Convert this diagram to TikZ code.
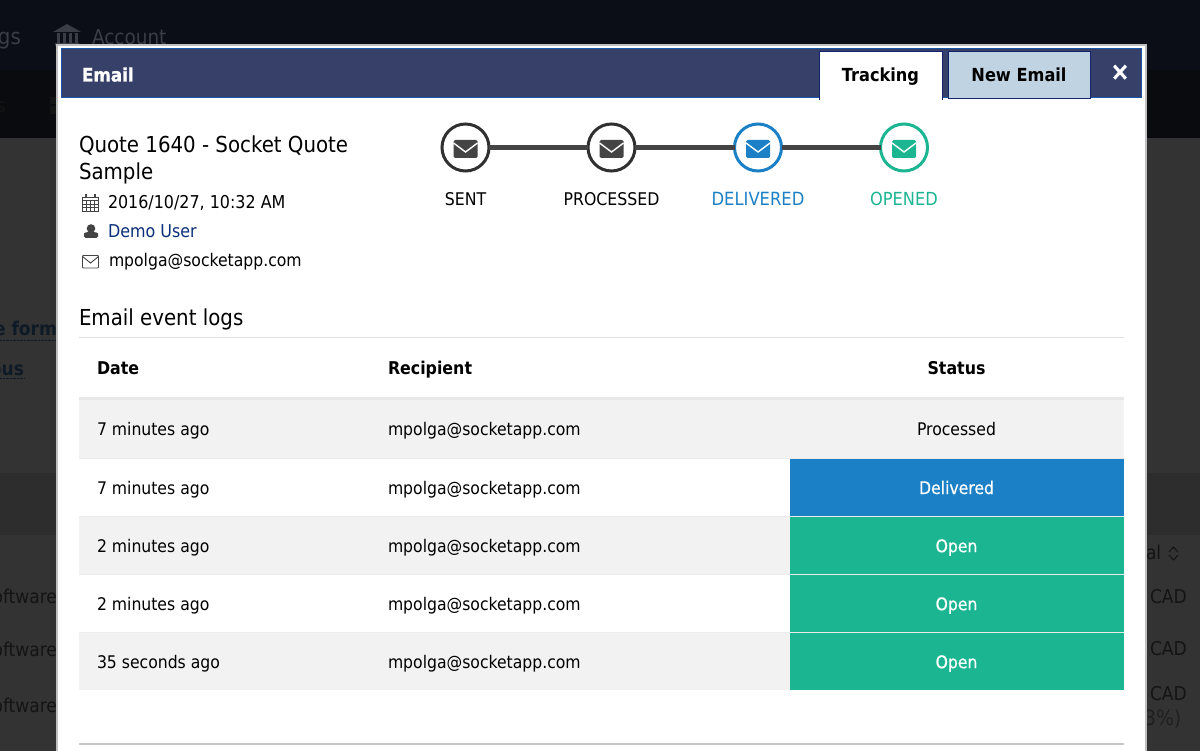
\documentclass[tikz,border=0pt]{standalone}
\usepackage{fontspec}
\setmainfont{DejaVu Sans Condensed}
\newfontfamily\semib[FakeBold=0.5]{DejaVu Sans Condensed}
\newfontfamily\heavy[FakeBold=1.2]{DejaVu Sans Condensed Bold}
\newcommand{\fs}[1]{\fontsize{#1}{#1}\selectfont}
\definecolor{topbar}{HTML}{0B0E17}
\definecolor{navbar}{HTML}{0A0B0F}
\definecolor{dimbg}{HTML}{333333}
\definecolor{dimbgb}{HTML}{2D2D2D}
\definecolor{headblue}{HTML}{364068}
\definecolor{headedge}{HTML}{1A56A8}
\definecolor{tabedge}{HTML}{14246A}
\definecolor{tabblue}{HTML}{C0D3E2}
\definecolor{inkdark}{HTML}{444444}
\definecolor{deliv}{HTML}{1C80C6}
\definecolor{openg}{HTML}{1BB592}
\definecolor{rowgrey}{HTML}{F2F2F2}
\definecolor{linkblue}{HTML}{0B2F7A}
\definecolor{ghost}{HTML}{3A3D45}
\definecolor{ghostb}{HTML}{141414}
\definecolor{ghostc}{HTML}{0E1A26}
\tikzset{
  x=1pt,y=-1pt,
  txt/.style={anchor=base west,inner sep=0pt,outer sep=0pt,font=\fs{17.4},text=black},
  bhead/.style={txt,font=\bfseries\fs{17.6}},
  ctr/.style={txt,anchor=base},
  bigt/.style={txt,font=\fs{22}},
  stat/.style={circle,draw=#1,line width=3pt,fill=white,minimum size=47pt,inner sep=0pt,outer sep=0pt},
  stlabel/.style={txt,anchor=base,font=\fs{17.5}},
  whitecell/.style={ctr,text=white,font=\semib\fs{17.4}},
  ghosttxt/.style={txt,font=\fs{19},text=ghostb},
}
\newcommand{\envel}[2]{% centre, colour
  \begin{scope}[shift={(#1)}]
    \fill[#2,rounded corners=1.5pt] (-12,-9) rectangle (12,9);
    \draw[white,line width=1.4pt] (-12,-6) -- (0,3) -- (12,-6);
  \end{scope}}
\begin{document}
\begin{tikzpicture}
\useasboundingbox (0,0) rectangle (1200,751);
% dimmed page
\fill[topbar] (0,0) rectangle (1200,70);
\fill[navbar] (0,70) rectangle (1200,138);
\fill[dimbg] (0,138) rectangle (1200,751);
\fill[dimbgb] (0,473) rectangle (1200,535);
\node[txt,font=\fs{22},text=ghost] (gsT) at (-2,45) {gs};
\node[txt,font=\fs{20.5},text=ghost] (accT) at (92,45) {Account};
\fill[ghost] (53,32) -- (67,24) -- (81,32) -- cycle (55,43) rectangle (79,46);
\foreach \bx in {57,63,69,75} \fill[ghost] (\bx,33) rectangle +(3,10);
\node[txt,font=\fs{19},text=ghostb] (sT) at (-3,113) {s};
\fill[ghostb] (50,97) rectangle (58,104) (50,106) rectangle (58,114);
\node[txt,font=\bfseries\fs{19},text=ghostc,anchor=base east] (formT) at (57,336) {e form};
\draw[ghostc,densely dotted] (0,340) -- (56,340);
\node[txt,font=\bfseries\fs{19},text=ghostc,anchor=base east] (ousT) at (24,375) {ous};
\draw[ghostc,densely dotted] (0,378.5) -- (24,378.5);
\foreach \ty/\nm in {603/a,656/b,712/c} \node[ghosttxt,anchor=base east] (soft\nm) at (57,\ty) {oftware};
\foreach \ty/\nm in {603/a,655/b,700/c} \node[ghosttxt] (cad\nm) at (1150,\ty) {CAD};
\node[ghosttxt,anchor=base west] (alT) at (1146,559) {al};
\draw[ghostb,line width=1pt] (1169,552) -- (1173.5,547) -- (1178,552) (1169,555) -- (1173.5,560) -- (1178,555);
\node[ghosttxt,text=ghostb!60!dimbg,font=\fs{21}] (pct) at (1144,725) {3\%)};
% modal
\fill[white,draw=black!25,line width=2.4pt] (57,44.8) rectangle (1146,760);
\fill[headblue,draw=headedge,line width=1pt] (61.5,48.5) rectangle (1141.5,97.5);
\node[txt,font=\heavy\fs{18.6},text=white] (emailT) at (82,81.5) {Email};
% tabs
\filldraw[fill=white,draw=tabedge,line width=1pt] (819,100) -- (819,52) -- (942,52) -- (942,100);
\fill[white] (819.5,97) rectangle (941.5,100);
\node[bhead,anchor=base,font=\bfseries\fs{18}] (trackT) at (880.5,81.5) {Tracking};
\filldraw[fill=tabblue,draw=tabedge,line width=1pt] (948.5,52) rectangle (1090.5,99);
\node[bhead,anchor=base,font=\bfseries\fs{18}] (newT) at (1019,81.5) {New Email};
\node[txt,anchor=base,font=\heavy\fs{25},text=white] (closeT) at (1120,80) {×};
% title block
\node[bigt] (q1) at (79,152.5) {Quote 1640 - Socket Quote};
\node[bigt] (q2) at (79,179.5) {Sample};
\node[txt,font=\fs{17.7}] (dateT) at (108,209) {2016/10/27, 10:32 AM};
\node[txt,text=linkblue,font=\fs{17.7}] (userT) at (108,238) {Demo User};
\node[txt] (mailT) at (109,267) {mpolga@socketapp.com};
% calendar icon
\begin{scope}[inkdark,line width=.8pt]
  \draw (82.5,197) rectangle (98.5,211);
  \foreach \cx in {86.5,90.5,94.5} \draw[line width=.5pt] (\cx,200) -- (\cx,211);
  \foreach \cy in {200.5,204,207.5} \draw[line width=.5pt] (82.5,\cy) -- (98.5,\cy);
  \foreach \cx in {86,95} \draw[line width=1.2pt] (\cx,194.5) -- (\cx,198);
\end{scope}
% person icon
\fill[inkdark] (91,228.5) circle (4.3);
\fill[inkdark,rounded corners=1.5pt] (84,238) -- (84,235) .. controls (84,232.5) and (87,232) .. (91,232) .. controls (95,232) and (98,232.5) .. (98,235) -- (98,238) -- cycle;
% mail icon
\draw[inkdark,line width=.9pt,rounded corners=.8pt] (82.5,255.5) rectangle (98.5,268);
\draw[inkdark,line width=.9pt] (82.5,256.5) -- (90.5,263) -- (98.5,256.5);
% tracker
\node[stat=inkdark!70!black] (st1) at (465.5,147.5) {};
\node[stat=inkdark!70!black] (st2) at (611.5,147.5) {};
\node[stat=deliv] (st3) at (758,147.5) {};
\node[stat=openg] (st4) at (904,147.5) {};
\draw[inkdark,line width=5pt] (st1) -- (st2);
\draw[inkdark,line width=5pt] (st2) -- (st3);
\draw[inkdark,line width=5pt] (st3) -- (st4);
\envel{465.5,149}{inkdark}
\envel{611.5,149}{inkdark}
\envel{758,149}{deliv}
\envel{904,149}{openg}
\node[stlabel] (l1) at (465.5,206) {SENT};
\node[stlabel] (l2) at (611.5,206) {PROCESSED};
\node[stlabel,text=deliv,font=\fs{18.2}] (l3) at (758,206) {DELIVERED};
\node[stlabel,text=openg,font=\fs{18}] (l4) at (904,206) {OPENED};
% logs
\node[bigt] (logT) at (79,325.5) {Email event logs};
\draw[black!12,line width=1pt] (79,337.5) -- (1124,337.5);
\node[bhead] (h1) at (97,374) {Date};
\node[bhead] (h2) at (388,374) {Recipient};
\node[bhead,anchor=base] (h3) at (956.5,374) {Status};
\fill[rowgrey] (79,400) rectangle (1124,458);
\fill[black!9] (79,397) rectangle (1124,400);
\draw[black!8,line width=1pt] (79,458.5) -- (1124,458.5) (79,516.5) -- (1124,516.5) (79,574.5) -- (1124,574.5) (79,632.5) -- (1124,632.5);
\fill[rowgrey] (79,517) rectangle (1124,574);
\fill[rowgrey] (79,633) rectangle (1124,690);
\fill[deliv] (790,459) rectangle (1124,516);
\fill[openg] (790,517) rectangle (1124,573.5);
\fill[openg] (790,575) rectangle (1124,631.5);
\fill[openg] (790,633) rectangle (1124,689.5);
\foreach \by/\dt/\nm in {435.5/7 minutes ago/a,494/7 minutes ago/b,552.2/2 minutes ago/c,610.2/2 minutes ago/d,668.2/35 seconds ago/e}{
  \node[txt] (d\nm) at (97,\by) {\dt};
  \node[txt] (m\nm) at (388,\by) {mpolga@socketapp.com};
}
\node[ctr] (s1) at (956.5,435.5) {Processed};
\node[whitecell] (s2) at (956.5,494) {Delivered};
\node[whitecell] (s3) at (956.5,552.2) {Open};
\node[whitecell] (s4) at (956.5,610.2) {Open};
\node[whitecell] (s5) at (956.5,668.2) {Open};
\draw[black!22,line width=1.2pt] (79,744) -- (1124,744);
\end{tikzpicture}
\end{document}
